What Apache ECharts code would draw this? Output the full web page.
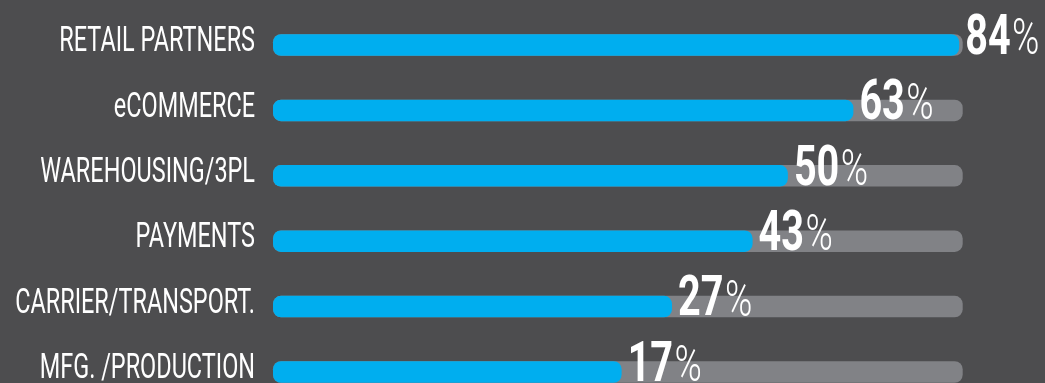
<!DOCTYPE html>
<html>
<head>
<meta charset="utf-8">
<script src="https://cdn.jsdelivr.net/npm/echarts@6/dist/echarts.min.js"></script>
<style>
  html, body { margin: 0; padding: 0; background: #4d4d4f; }
  #chart { width: 1045px; height: 383px; }
</style>
</head>
<body>
<div id="chart"></div>
<script>
// ---- data ----
const CATEGORIES = ['RETAIL PARTNERS', 'eCOMMERCE', 'WAREHOUSING/3PL', 'PAYMENTS', 'CARRIER/TRANSPORT.', 'MFG. /PRODUCTION'];
const VALUES = [84, 63, 50, 43, 27, 17];
const VALUE_SUFFIX = '%';
// the infographic's (non-zero-based) value scale
const AXIS_MIN = -52.2;
const AXIS_MAX = 84.7;

// ---- style ----
const BG = '#4d4d4f';
const BLUE = '#00aeef';
const TRACK = '#818286';
const BAR_H = 21.5;
const BAR_R = 8;
const FONT = 'Roboto, "Noto Sans", "DejaVu Sans", sans-serif';

const measureCtx = document.createElement('canvas').getContext('2d');
function textWidth(str, font) { measureCtx.font = font; return measureCtx.measureText(str).width; }

const NUM_SIZE = 55, NUM_SCALE = 0.72;
const PCT_SIZE = 50, PCT_SCALE = 0.74;
const CAT_SIZE = 35, CAT_SCALE = 0.67;

function renderTrack(params, api) {
  const cat = api.value(1);
  const start = api.coord([AXIS_MIN, cat]);
  const end = api.coord([api.value(0), cat]);
  const cy = start[1];
  return {
    type: 'group',
    children: [
      { type: 'rect', shape: { x: start[0], y: cy - BAR_H / 2, width: end[0] - start[0], height: BAR_H, r: BAR_R }, style: { fill: TRACK } },
      { type: 'text', x: start[0] - 18, y: cy - 2.5, scaleX: CAT_SCALE, scaleY: 1,
        style: { text: CATEGORIES[params.dataIndex], fill: '#ffffff', fontSize: CAT_SIZE, fontFamily: FONT, fontWeight: 400, align: 'right', verticalAlign: 'middle' } }
    ]
  };
}

function renderValue(params, api) {
  const cat = api.value(1);
  const v = api.value(0);
  const start = api.coord([AXIS_MIN, cat]);
  const end = api.coord([v, cat]);
  const cy = start[1];
  const numStr = String(v);
  const numFont = 'bold ' + NUM_SIZE + 'px ' + FONT;
  const numW = textWidth(numStr, numFont) * NUM_SCALE;
  const lx = end[0] + 6;
  return {
    type: 'group',
    children: [
      { type: 'rect', shape: { x: start[0], y: cy - BAR_H / 2, width: end[0] - start[0], height: BAR_H, r: BAR_R }, style: { fill: BLUE } },
      { type: 'text', x: lx, y: cy - 5, scaleX: NUM_SCALE, scaleY: 1,
        style: { text: numStr, fill: '#ffffff', fontSize: NUM_SIZE, fontFamily: FONT, fontWeight: 'bold', align: 'left', verticalAlign: 'middle' } },
      { type: 'text', x: lx + numW + 1.5, y: cy - 3.5, scaleX: PCT_SCALE, scaleY: 1,
        style: { text: VALUE_SUFFIX, fill: '#ffffff', fontSize: PCT_SIZE, fontFamily: FONT, fontWeight: 300, align: 'left', verticalAlign: 'middle' } }
    ]
  };
}

const chart = echarts.init(document.getElementById('chart'), null, { renderer: 'canvas' });
chart.setOption({
  backgroundColor: BG,
  animation: false,
  grid: { left: 273, right: 82.3, top: 12.3, bottom: -21.7, outerBoundsMode: 'none', containLabel: false },
  xAxis: { type: 'value', min: AXIS_MIN, max: AXIS_MAX, show: false, splitLine: { show: false } },
  yAxis: { type: 'category', data: CATEGORIES, inverse: true, show: false },
  series: [
    { type: 'custom', name: 'track', renderItem: renderTrack, encode: { x: 0, y: 1 }, clip: false,
      data: CATEGORIES.map(c => [AXIS_MAX, c]) },
    { type: 'custom', name: 'value', renderItem: renderValue, encode: { x: 0, y: 1 }, clip: false,
      data: VALUES.map((v, i) => [v, CATEGORIES[i]]) }
  ]
});
</script>
</body>
</html>
